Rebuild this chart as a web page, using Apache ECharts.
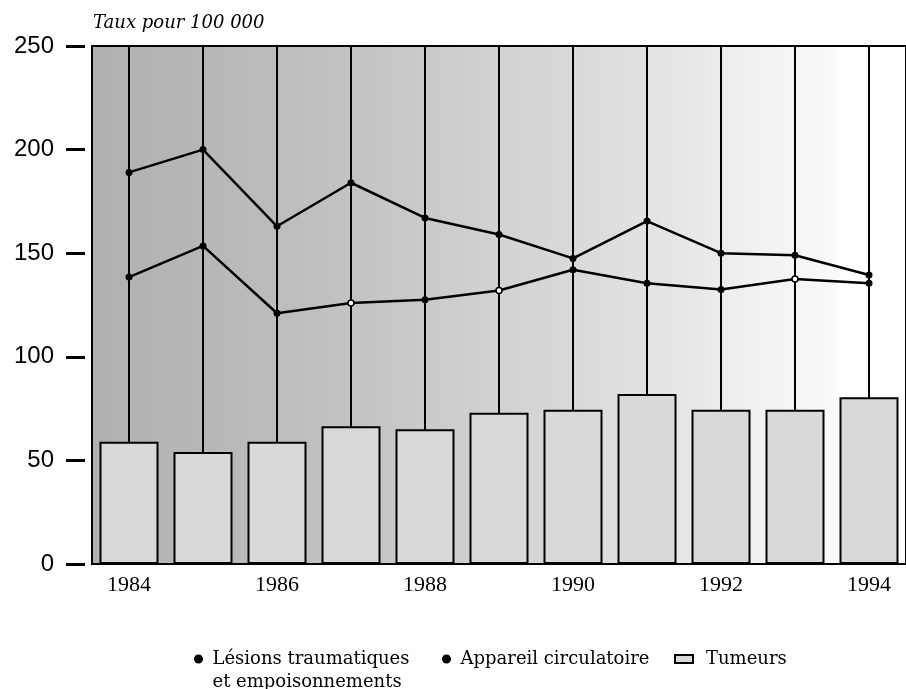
<!DOCTYPE html>
<html>
<head>
<meta charset="utf-8">
<script src="https://cdn.jsdelivr.net/npm/echarts@6/dist/echarts.min.js"></script>
<style>
html,body{margin:0;padding:0;background:#fff;}
#chart{width:906px;height:689px;}
</style>
</head>
<body>
<div id="chart"></div>
<script>
// ---- data ----
const years = ['1984','1985','1986','1987','1988','1989','1990','1991','1992','1993','1994'];
const lesions = [189, 200, 163, 184, 167, 159, 147.5, 165.5, 150, 149, 139.5];
const circulatoire = [138.5, 153.5, 121, 126, 127.5, 132, 142, 135.5, 132.5, 137.5, 135.5];
const tumeurs = [59, 54, 59, 66.5, 65, 73, 74.5, 82, 74.5, 74.5, 80.5];
const yTicks = [0, 50, 100, 150, 200, 250];
const openMarkerYears = ['1987', '1989', '1993'];

const nameLesions = 'Lésions traumatiques\net empoisonnements';
const nameCirc = 'Appareil circulatoire';
const nameTum = 'Tumeurs';

const chart = echarts.init(document.getElementById('chart'));

const circData = circulatoire.map((v, i) => openMarkerYears.includes(years[i])
  ? { value: v, itemStyle: { color: '#fff', borderColor: '#000', borderWidth: 1.5 }, symbolSize: 6 }
  : v);

const legendFont = { fontFamily: '"DejaVu Serif"', fontSize: 18, color: '#000', lineHeight: 23 };

const option = {
  animation: false,
  backgroundColor: '#fff',
  title: {
    text: 'Taux pour 100 000',
    left: 88, top: 9,
    textStyle: { fontFamily: '"DejaVu Serif"', fontStyle: 'italic', fontWeight: 'normal', fontSize: 18, color: '#000' }
  },
  grid: {
    left: 92, top: 46, right: -9, bottom: 125,
    show: true,
    borderColor: '#000', borderWidth: 2,
    backgroundColor: {
      type: 'linear', x: 0, y: 0, x2: 1, y2: 0,
      colorStops: [
        { offset: 0, color: '#b0b0b0' },
        { offset: 0.23, color: '#bcbcbc' },
        { offset: 0.41, color: '#cacaca' },
        { offset: 0.59, color: '#d9d9d9' },
        { offset: 0.74, color: '#e8e8e8' },
        { offset: 0.835, color: '#f3f3f3' },
        { offset: 0.915, color: '#fafafa' },
        { offset: 0.92, color: '#ffffff' },
        { offset: 1, color: '#ffffff' }
      ]
    }
  },
  legend: [
    { data: [{ name: nameLesions, icon: 'circle' }], formatter: '\n{name}',
      left: 189, top: 619.5, itemWidth: 18, itemHeight: 9, itemGap: 0, selectedMode: false, textStyle: legendFont },
    { data: [{ name: nameCirc, icon: 'circle' }],
      left: 437, top: 642.5, itemWidth: 18, itemHeight: 9, selectedMode: false, textStyle: legendFont },
    { data: [{ name: nameTum, icon: 'rect' }],
      left: 669, top: 642.5, itemWidth: 18, itemHeight: 8, selectedMode: false,
      textStyle: Object.assign({}, legendFont, { padding: [0, 0, 0, 8] }) }
  ],
  xAxis: {
    type: 'category',
    data: years,
    boundaryGap: true,
    axisLine: { show: true, lineStyle: { color: '#000', width: 2 } },
    axisTick: { show: false },
    axisLabel: { interval: 1, margin: 10, color: '#000', fontFamily: '"Liberation Serif"', fontSize: 22 },
    splitLine: { show: false }
  },
  yAxis: {
    type: 'value',
    min: 0, max: 250, interval: 50,
    offset: 7,
    axisLine: { show: false },
    axisTick: { show: true, length: 19, lineStyle: { color: '#000', width: 3 } },
    axisLabel: { margin: 31, color: '#000', fontFamily: '"Liberation Sans"', fontSize: 24,
      formatter: v => yTicks.includes(v) ? String(v) : '' },
    splitLine: { show: false }
  },
  series: [
    {
      name: 'stems', type: 'line', data: [], z: 1, silent: true,
      markLine: {
        z: 1,
        silent: true, symbol: 'none', animation: false,
        label: { show: false },
        lineStyle: { color: '#000', width: 2, type: 'solid' },
        data: years.map(y => ({ xAxis: y }))
      }
    },
    {
      name: nameTum, type: 'bar', data: tumeurs, barWidth: 59, z: 3,
      itemStyle: { color: '#d9d9d9', borderColor: '#000', borderWidth: 2 }
    },
    {
      name: nameLesions, type: 'line', data: lesions, z: 5,
      symbol: 'circle', symbolSize: 7,
      lineStyle: { color: '#000', width: 2.5 },
      itemStyle: { color: '#000' }
    },
    {
      name: nameCirc, type: 'line', data: circData, z: 5,
      symbol: 'circle', symbolSize: 7,
      lineStyle: { color: '#000', width: 2.5 },
      itemStyle: { color: '#000' }
    }
  ]
};
chart.setOption(option);
if (document.fonts && document.fonts.ready) {
  document.fonts.ready.then(() => { chart.setOption(option, true); });
}
</script>
</body>
</html>
